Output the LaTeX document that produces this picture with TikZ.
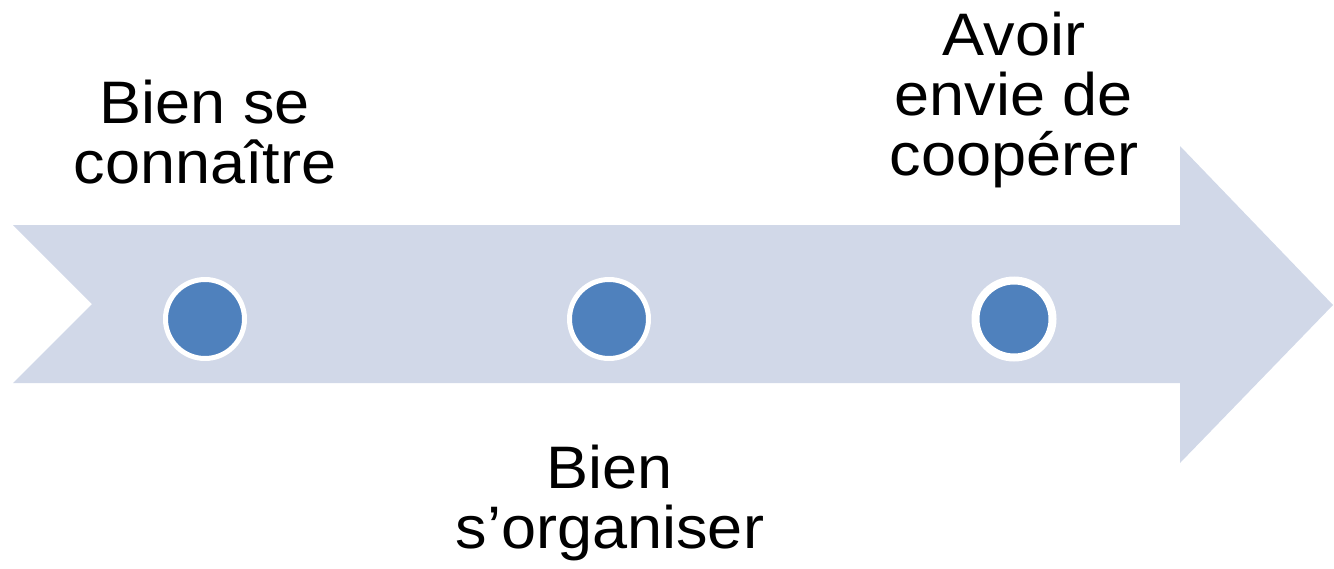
\documentclass[tikz,border=0pt]{standalone}
\usepackage{fontspec}
\setmainfont{Liberation Sans}
\newfontfamily\labelfont[FakeStretch=1.05]{Liberation Sans}
\definecolor{arrowfill}{HTML}{D1D8E8}
\definecolor{dotblue}{HTML}{4F81BD}
\begin{document}
\begin{tikzpicture}[x=1pt,y=-1pt,
  dot/.style={circle,fill=dotblue,draw=white,line width=5pt,minimum size=79pt,inner sep=0pt,outer sep=0pt},
  label/.style={align=center,inner sep=0pt,outer sep=0pt,font=\labelfont\fontsize{60}{60}\selectfont,anchor=base}]
\useasboundingbox (0,0) rectangle (1334,568);
\fill[arrowfill] (13,225) -- (1180,225) -- (1180,146) -- (1333,305) -- (1180,463) -- (1180,383) -- (13,383) -- (92,304) -- cycle;
\node[dot] (d1) at (205,319) {};
\node[dot] (d2) at (609,319) {};
\node[dot,line width=8pt,minimum size=77pt] (d3) at (1014,319) {};
\node[label] (t1) at (205,183) {Bien se\\connaître};
\node[label] (t2) at (610,548) {Bien\\s’organiser};
\node[label] (t3) at (1014,175) {Avoir\\envie de\\coopérer};
\end{tikzpicture}
\end{document}
